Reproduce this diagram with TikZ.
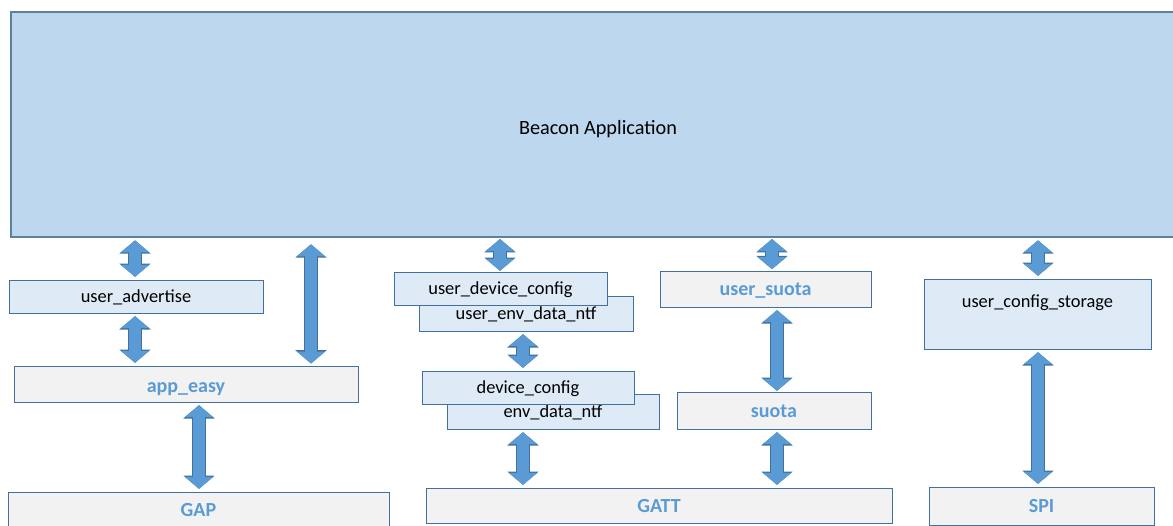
\documentclass[tikz,border=0pt]{standalone}
\usepackage{fontspec}
\setmainfont{Carlito}
\usetikzlibrary{arrows.meta}

\definecolor{appfill}{HTML}{BDD7EE}
\definecolor{appedge}{HTML}{5E819B}
\definecolor{modfill}{HTML}{DEEBF7}
\definecolor{modedge}{HTML}{41719C}
\definecolor{basefill}{HTML}{F2F2F2}
\definecolor{labelblue}{HTML}{5B9BD5}
\definecolor{arrowfill}{HTML}{5B9BD5}
\definecolor{arrowedge}{HTML}{41719C}

\tikzset{
	appbox/.style={draw=appedge, fill=appfill, line width=1pt, inner sep=0pt, text height=15pt, text depth=0pt, font=\fontsize{15.2}{18}\selectfont},
	modbox/.style={draw=modedge, fill=modfill, line width=0.75pt, inner sep=0pt, text height=9.4pt, text depth=0pt, font=\fontsize{13.8}{16}\selectfont},
	basebox/.style={draw=modedge, fill=basefill, line width=0.75pt, inner sep=0pt, text height=10.2pt, text depth=0pt, text=labelblue, font=\fontsize{15}{18}\selectfont\bfseries},
	dblarrow/.style={draw=arrowfill, line width=9pt, {Triangle[width=21pt,length=9pt]}-{Triangle[width=21pt,length=9pt]},
		shorten <=2pt, shorten >=2pt,
		preaction={draw=arrowedge, line width=10.5pt, {Triangle[width=23pt,length=10pt]}-{Triangle[width=23pt,length=10pt]}}}
}

\begin{document}
\begin{tikzpicture}[x=0.75pt, y=-0.75pt]
		\useasboundingbox (0,0) rectangle (1173,525);
		\clip (0,0) rectangle (1173,525);

		\node[appbox, minimum width=880.5pt, minimum height=168.75pt] (app) at (598,124.5) {Beacon Application};

		\node[modbox, minimum width=190.5pt, minimum height=24.75pt] (ua) at (136,296.5) {user\_advertise};
		\node[basebox, text height=12pt, minimum width=258pt, minimum height=27pt] (ae) at (186,384) {app\_easy};
		\node[basebox, minimum width=285.75pt, minimum height=27pt] (gap) at (198.5,510) {GAP};

		\node[modbox, minimum width=160.5pt, minimum height=26.25pt] (uend) at (526,313.5) {user\_env\_data\_ntf};
		\node[modbox, minimum width=159.75pt, minimum height=24.75pt] (udc) at (500.5,288.5) {user\_device\_config};
		\node[modbox, minimum width=159pt, minimum height=26.25pt] (ednt) at (553,411.5) {env\_data\_ntf};
		\node[modbox, minimum width=159pt, minimum height=24.75pt] (dc) at (528,387.5) {device\_config};
		\node[basebox, minimum width=349.5pt, minimum height=26.25pt] (gatt) at (659,505.5) {GATT};

		\node[basebox, minimum width=158.25pt, minimum height=27pt] (us) at (765.5,289) {user\_suota};
		\node[basebox, minimum width=145.5pt, minimum height=27.75pt] (suota) at (774,410.5) {suota};

		\node[modbox, text height=0pt, text depth=9.6pt, minimum width=170.25pt, minimum height=52.5pt] (ucs) at (1037.5,314) {user\_config\_storage};
		\node[basebox, minimum width=168.75pt, minimum height=28.5pt] (spi) at (1041.5,506) {SPI};

		\draw[dblarrow]	(app.south -| 135,0) to (ua.north -| 135,0);
		\draw[dblarrow]	(ua.south -| 135,0) to (ae.north -| 135,0);
		\draw[dblarrow, shorten <=5pt, shorten >=1.5pt]	(app.south -| 311,0) to (ae.north -| 311,0);
		\draw[dblarrow]	(ae.south -| 199,0) to (gap.north -| 199,0);

		\draw[dblarrow, shorten <=1pt, shorten >=0.5pt]	(app.south -| 500,0) to (udc.north -| 500,0);
		\draw[dblarrow]	(uend.south -| 523,0) to (dc.north -| 523,0);
		\draw[dblarrow]	(ednt.south -| 523,0) to (gatt.north -| 523,0);

		\draw[dblarrow, shorten <=1pt, shorten >=1pt]	(app.south -| 772,0) to (us.north -| 772,0);
		\draw[dblarrow, shorten >=0.5pt]	(us.south -| 777,0) to (suota.north -| 777,0);
		\draw[dblarrow]	(suota.south -| 777,0) to (gatt.north -| 777,0);

		\draw[dblarrow]	(app.south -| 1038,0) to (ucs.north -| 1038,0);
		\draw[dblarrow]	(ucs.south -| 1038,0) to (spi.north -| 1038,0);
	\end{tikzpicture}
\end{document}
